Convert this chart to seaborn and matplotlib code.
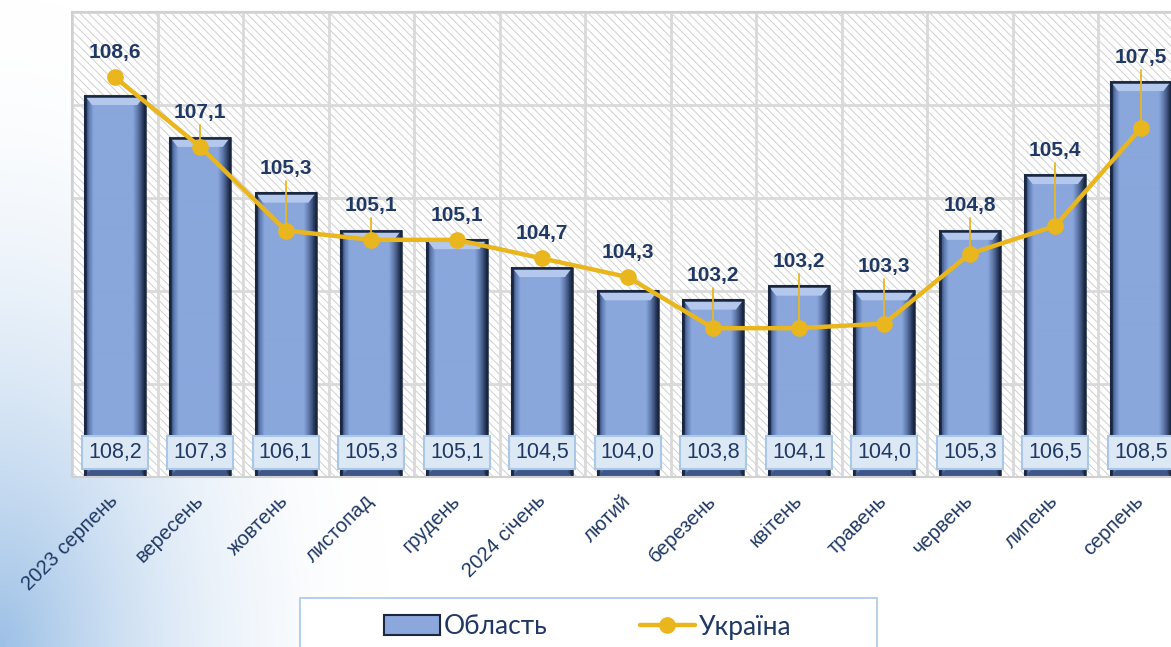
import numpy as np
import pandas as pd
import matplotlib
matplotlib.use('Agg')
import matplotlib.pyplot as plt
import seaborn as sns
from matplotlib.patches import Rectangle, Polygon, Patch
from matplotlib.lines import Line2D
from matplotlib.colors import LinearSegmentedColormap, to_rgb

months = ['2023 серпень', 'вересень', 'жовтень', 'листопад', 'грудень', '2024 січень',
          'лютий', 'березень', 'квітень', 'травень', 'червень', 'липень', 'серпень']
oblast = [108.2, 107.3, 106.1, 105.3, 105.1, 104.5, 104.0, 103.8, 104.1, 104.0, 105.3, 106.5, 108.5]
ukraine = [108.6, 107.1, 105.3, 105.1, 105.1, 104.7, 104.3, 103.2, 103.2, 103.3, 104.8, 105.4, 107.5]
series_names = ['Область', 'Україна']

df = pd.DataFrame({'month': months, 'pos': np.arange(len(months)),
                   'oblast': oblast, 'ukraine': ukraine})

sns.set_theme(style='white')
plt.rcParams['font.family'] = ['Liberation Sans', 'DejaVu Sans']
plt.rcParams['hatch.linewidth'] = 0.7

NAVY = '#1F3864'
GOLD = '#E9B61E'
BAR = '#8BA7DC'
EDGE = '#1A2740'

W, H = 1171, 647
fig = plt.figure(figsize=(W / 100, H / 100), dpi=100, facecolor='white')

# background swoosh gradient (bottom-left)
bg = fig.add_axes([0, 0, 1, 1], zorder=-10)
yy, xx = np.mgrid[0:H, 0:W]
t = 1 - np.sqrt((xx / 390.0) ** 2 + ((H - yy) / 650.0) ** 2)
a = np.clip(t, 0, 1) ** 1.9
blue = np.array(to_rgb('#9CC0E6'))
img = (1 - a[..., None]) * np.ones(3) + a[..., None] * blue
bg.imshow(img, extent=[0, W, H, 0], aspect='auto', origin='upper')
bg.set_axis_off()

ax = fig.add_axes([72 / W, 1 - 477 / H, 13 * 85.5 / W, (477 - 12) / H])
ax.set_facecolor('white')
ax.add_patch(Rectangle((0, 0), 1, 1, transform=ax.transAxes, facecolor='white',
                       edgecolor='#D0D0D0', hatch='\\\\\\\\', lw=0, zorder=0))

sns.barplot(data=df, x='month', y='oblast', color=BAR, width=0.7, edgecolor=EDGE,
            linewidth=1.5, ax=ax, zorder=2, saturation=1)
bars = list(ax.containers[0])

cmap = LinearSegmentedColormap.from_list('bev', [
    (0.0, '#22345A'), (0.06, '#5B78AE'), (0.14, '#8AA7DC'), (0.80, '#8AA7DC'),
    (0.89, '#5C76A8'), (1.0, '#1B2846')])
grad = np.linspace(0, 1, 120)[None, :]
for bar in bars:
    x0, w, top = bar.get_x(), bar.get_width(), bar.get_height()
    im = ax.imshow(grad, extent=[x0, x0 + w, 100, top], cmap=cmap, aspect='auto',
                   zorder=2.1, interpolation='bilinear')
    im.set_clip_path(bar)
    d, dh = 0.085, 0.2
    ax.add_patch(Polygon([(x0, top), (x0 + w, top), (x0 + w - d, top - dh), (x0 + d, top - dh)],
                         closed=True, fc='#B4C8EE', ec='none', zorder=2.2))
    ax.add_patch(Polygon([(x0, 100), (x0 + w, 100), (x0 + w - d, 100 + dh), (x0 + d, 100 + dh)],
                         closed=True, fc='#3F5688', ec='none', zorder=2.2))
    ax.add_patch(Rectangle((x0, 0), w, top, fill=False, ec=EDGE, lw=1.8, zorder=2.3))

sns.lineplot(data=df, x='pos', y='ukraine', color=GOLD, lw=3.2, marker='o', markersize=12,
             markeredgewidth=0, ax=ax, zorder=4)

for i, (o, u) in enumerate(zip(oblast, ukraine)):
    ly = max(o, u) + 0.53
    ax.text(i, ly, f'{u:.1f}'.replace('.', ','), ha='center', va='center', fontsize=15,
            fontweight='bold', color=NAVY, zorder=6)
    if (ly - 0.3) - (u + 0.17) > 0.1:
        ax.plot([i, i], [ly - 0.27, u], color=GOLD, lw=1.3, zorder=3.9)
    ax.text(i, 100.52, f'{o:.1f}'.replace('.', ','), ha='center', va='center', fontsize=15.5,
            color=NAVY, zorder=7,
            bbox=dict(boxstyle='square,pad=0.28', fc='#DDE8F5', ec='#A9C8E8', lw=1.5))

ax.set_xlim(-0.5, 12.5)
ax.set_ylim(100, 110)
ax.set_yticks(np.arange(100, 111, 2))
ax.set_yticklabels([])
ax.set_xticks(np.arange(-0.5, 13, 1), minor=True)
ax.grid(which='major', axis='y', color='#D9D9D9', lw=2, zorder=1)
ax.grid(which='minor', axis='x', color='#D9D9D9', lw=2, zorder=1)
ax.grid(which='major', axis='x', visible=False)
ax.set_axisbelow(True)
ax.set_xticks(np.arange(len(months)))
ax.set_xticklabels(months, rotation=45, ha='right', va='center', rotation_mode='anchor',
                   fontsize=14.5, color=NAVY)
ax.tick_params(axis='both', which='both', length=0)
ax.tick_params(axis='x', pad=15)
ax.set_xlabel('')
ax.set_ylabel('')
for s in ax.spines.values():
    s.set_color('#D0D0D0')
    s.set_linewidth(1.5)

# legend
fig.patches.append(Rectangle((300 / W, -0.05), 577 / W, 0.05 + 1 - 598 / H,
                             transform=fig.transFigure, fc='white', ec='#A9C8E8', lw=1.2,
                             zorder=-5))
handles = [Patch(facecolor=BAR, edgecolor=EDGE, lw=1.5),
           Line2D([0], [0], color=GOLD, lw=3.2, marker='o', markersize=12, markeredgewidth=0)]
fig.legend(handles, series_names, loc='center', bbox_to_anchor=(588 / W, 1 - 627 / H), ncol=2,
           frameon=False, prop=dict(family=['Lato', 'Noto Sans', 'DejaVu Sans'], size=19),
           labelcolor=NAVY, handlelength=2.1, handleheight=0.8, handletextpad=0.15,
           columnspacing=3.5)

fig.savefig('out.png', dpi=100, facecolor='white')
